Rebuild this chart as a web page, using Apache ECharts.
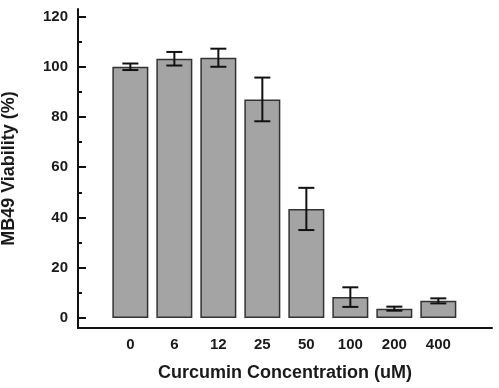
<!DOCTYPE html>
<html>
<head>
<meta charset="utf-8">
<script src="https://cdn.jsdelivr.net/npm/echarts@6/dist/echarts.min.js"></script>
<style>
  html, body { margin: 0; padding: 0; background: #fff; }
  #chart-main { width: 499px; height: 388px; }
</style>
</head>
<body>
<div id="chart-main"></div>
<script>
// data
var categories = ['0', '6', '12', '25', '50', '100', '200', '400'];
var viability = [100, 103.2, 103.6, 87.0, 43.4, 8.3, 3.7, 6.8];
var errors = [1.3, 2.7, 3.6, 8.7, 8.4, 3.9, 0.8, 1.0];
var majorTicks = [0, 20, 40, 60, 80, 100, 120];
var minorTicks = [10, 30, 50, 70, 90, 110];

var dom = document.getElementById('chart-main');
if (dom && dom !== null) {
  var myChart = echarts.init(dom);

  var barData = [];
  var errData = [];
  var positions = [];
  viability.forEach(function (v, i) {
    positions.push(i);
    barData.push([i, v]);
    errData.push([i, v - errors[i], v + errors[i]]);
  });

  var font = 'Liberation Sans, Arial, sans-serif';

  var option = {
    backgroundColor: '#fff',
    animation: false,
    grid: {
      left: 78,
      right: 7,
      top: 9,
      bottom: 60,
      containLabel: false,
      outerBoundsMode: 'none'
    },
    xAxis: {
      type: 'value',
      min: -1.19,
      max: 8.22,
      name: 'Curcumin Concentration (uM)',
      nameLocation: 'middle',
      nameGap: 36,
      nameTextStyle: {
        fontFamily: font,
        fontWeight: 'bold',
        fontSize: 18,
        color: '#1a1a1a'
      },
      splitLine: { show: false },
      axisTick: { show: false },
      axisLine: {
        onZero: false,
        lineStyle: { color: '#111', width: 2 }
      },
      axisLabel: {
        customValues: positions,
        margin: 9,
        fontFamily: font,
        fontWeight: 'bold',
        fontSize: 15,
        color: '#1a1a1a',
        formatter: function (v) {
          return categories[Math.round(v)];
        }
      }
    },
    yAxis: [
      {
        type: 'value',
        min: -4,
        max: 123,
        name: 'MB49 Viability (%)',
        nameLocation: 'middle',
        nameGap: 60,
        nameTextStyle: {
          fontFamily: font,
          fontWeight: 'bold',
          fontSize: 18,
          color: '#1a1a1a'
        },
        splitLine: { show: false },
        axisLine: {
          show: true,
          onZero: false,
          lineStyle: { color: '#111', width: 2 }
        },
        axisTick: {
          show: true,
          inside: true,
          length: 8,
          customValues: majorTicks,
          lineStyle: { color: '#111', width: 2 }
        },
        axisLabel: {
          customValues: majorTicks,
          margin: 10,
          fontFamily: font,
          fontWeight: 'bold',
          fontSize: 15,
          color: '#1a1a1a'
        }
      },
      {
        type: 'value',
        min: -4,
        max: 123,
        position: 'left',
        splitLine: { show: false },
        axisLine: { show: false, onZero: false },
        axisTick: {
          show: true,
          inside: true,
          length: 4,
          customValues: minorTicks,
          lineStyle: { color: '#111', width: 2 }
        },
        axisLabel: { show: false }
      }
    ],
    series: [
      {
        type: 'bar',
        data: barData,
        barWidth: 36,
        itemStyle: {
          color: '#a4a4a4',
          borderColor: '#333',
          borderWidth: 1.5
        }
      },
      {
        type: 'custom',
        data: errData,
        encode: { x: 0, y: [1, 2] },
        renderItem: function (params, api) {
          var x = api.value(0);
          var lo = api.coord([x, api.value(1)]);
          var hi = api.coord([x, api.value(2)]);
          var half = 8;
          var style = { stroke: '#111', lineWidth: 2 };
          return {
            type: 'group',
            children: [
              { type: 'line', shape: { x1: hi[0], y1: hi[1], x2: lo[0], y2: lo[1] }, style: style },
              { type: 'line', shape: { x1: hi[0] - half, y1: hi[1], x2: hi[0] + half, y2: hi[1] }, style: style },
              { type: 'line', shape: { x1: lo[0] - half, y1: lo[1], x2: lo[0] + half, y2: lo[1] }, style: style }
            ]
          };
        },
        z: 5
      }
    ]
  };
  myChart.setOption(option, true);
}
</script>
</body>
</html>
